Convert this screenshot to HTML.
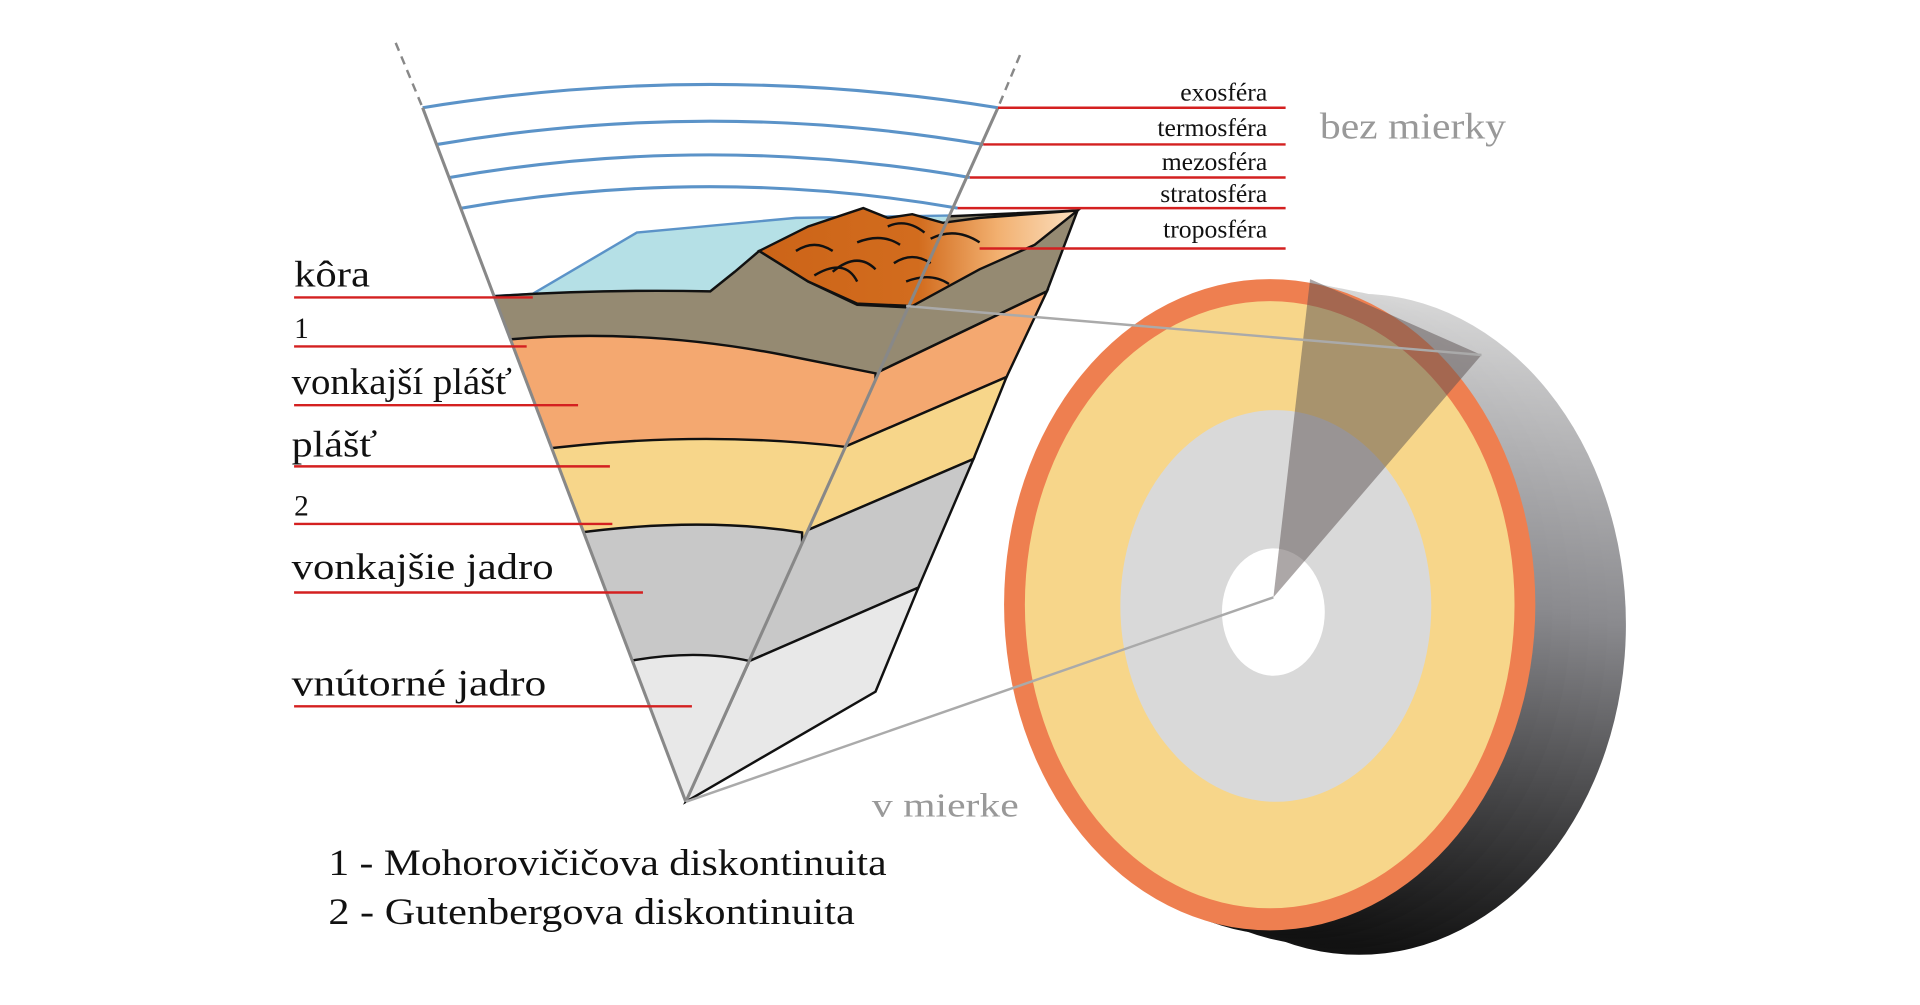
<!DOCTYPE html>
<html><head><meta charset="utf-8"><style>html,body{margin:0;padding:0;background:#fff;}svg{display:block}</style></head>
<body>
<svg width="1920" height="1005" viewBox="0 0 1568 821" xmlns="http://www.w3.org/2000/svg" font-family="Liberation Serif, serif">
<defs>
<clipPath id="cone"><polygon points="345,88 815,88 560,655"/></clipPath>
<linearGradient id="side" x1="0" y1="0" x2="0" y2="1">
<stop offset="0" stop-color="#d8d8d8"/><stop offset="0.5" stop-color="#8a8a8e"/><stop offset="1" stop-color="#111"/></linearGradient>
<linearGradient id="mt" x1="0" y1="0" x2="1" y2="0">
<stop offset="0" stop-color="#cc6418"/><stop offset="0.5" stop-color="#d26c1e"/><stop offset="0.75" stop-color="#f2b070"/><stop offset="1" stop-color="#fbe0c0"/></linearGradient>
</defs>
<line x1="323" y1="35" x2="345" y2="88" stroke="#888" stroke-width="2" stroke-dasharray="7,5"/>
<line x1="833" y1="45" x2="815" y2="88" stroke="#888" stroke-width="2" stroke-dasharray="7,5"/>
<polygon points="740,250 880,172 855,238 715,305" fill="#958a72" stroke="#111" stroke-width="2"/>
<polygon points="715,305 855,238 822,308 690,365" fill="#f4a870" stroke="#111" stroke-width="2"/>
<polygon points="690,365 822,308 795,375 655,435" fill="#f7d68a" stroke="#111" stroke-width="2"/>
<polygon points="655,435 795,375 750,480 612,540" fill="#c8c8c8" stroke="#111" stroke-width="2"/>
<polygon points="612,540 750,480 715,565 560,655" fill="#e8e8e8" stroke="#111" stroke-width="2"/>
<polygon points="700,180 880,172 740,252 700,250 660,230 620,205" fill="#958a72" stroke="#111" stroke-width="2"/>
<g clip-path="url(#cone)">
<path d="M400,242 L435,240 L520,190 L650,178 L780,176 L780,250 L400,250Z" fill="#b5e0e6" stroke="#5b93c8" stroke-width="2"/>
<path d="M390,243 Q480,236 580,238 L600,222 L620,205 L660,230 L700,249 L760,252 L760,700 L390,700Z" fill="#958a72" stroke="#111" stroke-width="2"/>
<path d="M390,280 Q510,265 640,290 L715,305 L715,700 L390,700Z" fill="#f4a870" stroke="#111" stroke-width="2"/>
<path d="M420,370 Q560,350 690,365 L690,700 L420,700Z" fill="#f7d68a" stroke="#111" stroke-width="2"/>
<path d="M440,440 Q560,420 655,435 L655,700 L440,700Z" fill="#c8c8c8" stroke="#111" stroke-width="2"/>
<path d="M490,545 Q560,528 612,540 L612,700 L490,700Z" fill="#e8e8e8" stroke="#111" stroke-width="2"/>
</g>
<path d="M620,205 L640,195 L660,185 L690,175 L705,170 L725,178 L745,175 L770,182 L800,178 L880,172 L845,200 L800,220 L745,250 L700,248 L660,230Z" fill="url(#mt)" stroke="#111" stroke-width="2"/>
<g fill="none" stroke="#111" stroke-width="2">
<path d="M650,205 Q665,195 680,205"/><path d="M680,222 Q700,205 715,220"/><path d="M700,198 Q720,190 735,200"/>
<path d="M665,225 Q690,210 700,230"/><path d="M730,215 Q745,205 760,215"/><path d="M760,195 Q780,185 800,198"/>
<path d="M725,185 Q740,178 755,190"/><path d="M740,230 Q760,222 775,232"/>
</g>
<g fill="none" stroke="#5b93c8" stroke-width="2.5">
<path d="M345,88 Q580,50 815,88"/><path d="M357,118 Q580,80 803,118"/><path d="M367,145 Q580,108 792,145"/><path d="M377,170 Q580,135 782,170"/>
</g>
<line x1="345" y1="88" x2="560" y2="655" stroke="#888" stroke-width="2.5"/>
<line x1="815" y1="88" x2="560" y2="655" stroke="#888" stroke-width="2.5"/>
<g fill="url(#side)">
<ellipse cx="1110" cy="510" rx="218" ry="270"/>
<ellipse cx="1095" cy="507" rx="218" ry="268"/>
<ellipse cx="1080" cy="504" rx="218" ry="268"/>
<ellipse cx="1065" cy="500" rx="218" ry="267"/>
<ellipse cx="1050" cy="497" rx="218" ry="267"/>
</g>
<ellipse cx="1037" cy="494" rx="217" ry="266" fill="#ee7f50"/>
<ellipse cx="1037" cy="494" rx="200" ry="248" fill="#f7d68a"/>
<ellipse cx="1042" cy="495" rx="127" ry="160" fill="#d9d9d9"/>
<ellipse cx="1040" cy="500" rx="42" ry="52" fill="#fff"/>
<polygon points="1040,488 1070,228 1210,290" fill="#5a5050" opacity="0.5"/>
<line x1="740" y1="250" x2="1210" y2="290" stroke="#aaa" stroke-width="2"/>
<line x1="560" y1="655" x2="1040" y2="488" stroke="#aaa" stroke-width="2"/>
<g stroke="#d42020" stroke-width="2">
<line x1="240" y1="243" x2="435" y2="243"/><line x1="240" y1="283" x2="430" y2="283"/><line x1="240" y1="331" x2="472" y2="331"/>
<line x1="240" y1="381" x2="498" y2="381"/><line x1="240" y1="428" x2="500" y2="428"/><line x1="240" y1="484" x2="525" y2="484"/>
<line x1="240" y1="577" x2="565" y2="577"/>
<line x1="815" y1="88" x2="1050" y2="88"/><line x1="803" y1="118" x2="1050" y2="118"/><line x1="792" y1="145" x2="1050" y2="145"/>
<line x1="782" y1="170" x2="1050" y2="170"/><line x1="800" y1="203" x2="1050" y2="203"/>
</g>
<g font-size="30" fill="#111" lengthAdjust="spacingAndGlyphs">
<text x="240" y="234" textLength="62" lengthAdjust="spacingAndGlyphs">kôra</text>
<text x="240" y="276" font-size="24">1</text>
<text x="238" y="322" textLength="180" lengthAdjust="spacingAndGlyphs">vonkajší plášť</text>
<text x="238" y="373" textLength="70" lengthAdjust="spacingAndGlyphs">plášť</text>
<text x="240" y="421" font-size="24">2</text>
<text x="238" y="473" textLength="214" lengthAdjust="spacingAndGlyphs">vonkajšie jadro</text>
<text x="238" y="568" textLength="208" lengthAdjust="spacingAndGlyphs">vnútorné jadro</text>
<text x="268" y="715" textLength="456" lengthAdjust="spacingAndGlyphs">1 - Mohorovičičova diskontinuita</text>
<text x="268" y="755" textLength="430" lengthAdjust="spacingAndGlyphs">2 - Gutenbergova diskontinuita</text>
</g>
<g font-size="21" fill="#111" text-anchor="end">
<text x="1035" y="82">exosféra</text><text x="1035" y="111">termosféra</text><text x="1035" y="139">mezosféra</text>
<text x="1035" y="165">stratosféra</text><text x="1035" y="194">troposféra</text>
</g>
<text x="1078" y="113" font-size="30" fill="#999" textLength="152" lengthAdjust="spacingAndGlyphs">bez mierky</text>
<text x="712" y="667" font-size="28" fill="#999" textLength="120" lengthAdjust="spacingAndGlyphs">v mierke</text>
</svg>
</body></html>
